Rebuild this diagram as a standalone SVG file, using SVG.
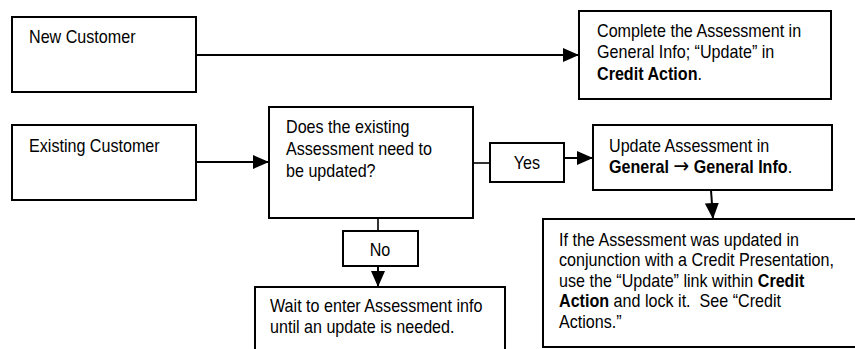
<svg xmlns="http://www.w3.org/2000/svg" width="855" height="349" viewBox="0 0 855 349">
<style>
.box{fill:#fff;stroke:#000;stroke-width:2}
.t{font-family:"Liberation Sans",Arial,sans-serif;font-size:18px;fill:#000;white-space:pre}
.b{font-weight:bold}
.ar{font-family:"DejaVu Sans",sans-serif;font-size:21px;font-weight:normal}
.c{fill:none;stroke:#000;stroke-width:2}
.c1{fill:none;stroke:#000;stroke-width:1.6}
</style>
<defs>
<marker id="ah" markerUnits="userSpaceOnUse" markerWidth="16" markerHeight="14" refX="16" refY="7" orient="auto">
<path d="M0,0 L16,7 L0,14 z" fill="#000"/>
</marker>
</defs>
<rect width="855" height="349" fill="#fff"/>
<g id="connectors">
<line class="c" x1="196" y1="55" x2="579" y2="55" marker-end="url(#ah)"/>
<line class="c" x1="196" y1="162" x2="269" y2="162" marker-end="url(#ah)"/>
<line class="c1" x1="473" y1="163" x2="490" y2="163"/>
<line class="c" x1="564" y1="158" x2="593" y2="158" marker-end="url(#ah)"/>
<line class="c1" x1="378" y1="218" x2="378" y2="231"/>
<line class="c" x1="378" y1="266" x2="378" y2="287" marker-end="url(#ah)"/>
<line class="c" x1="711" y1="190" x2="713" y2="219" marker-end="url(#ah)"/>
</g>
<g id="new-customer">
<rect class="box" x="12" y="17" width="184" height="75"/>
<text class="t" transform="translate(29,43) scale(0.895,1)">New Customer</text>
</g>
<g id="complete-assessment">
<rect class="box" x="579" y="11" width="252" height="88"/>
<g transform="translate(597,0) scale(0.895,1)">
<text class="t" y="37">Complete the Assessment in</text>
<text class="t" y="58.5">General Info; “Update” in</text>
<text class="t" y="80"><tspan class="b">Credit Action</tspan>.</text>
</g>
</g>
<g id="existing-customer">
<rect class="box" x="12" y="125" width="184" height="75"/>
<text class="t" transform="translate(29,152) scale(0.895,1)">Existing Customer</text>
</g>
<g id="decision">
<rect class="box" x="269" y="107" width="204" height="111"/>
<g transform="translate(286,0) scale(0.895,1)">
<text class="t" y="133">Does the existing</text>
<text class="t" y="155">Assessment need to</text>
<text class="t" y="177">be updated?</text>
</g>
</g>
<g id="yes-label">
<rect class="box" x="490" y="143" width="74" height="39"/>
<text class="t" text-anchor="middle" transform="translate(527,169) scale(0.895,1)">Yes</text>
</g>
<g id="no-label">
<rect class="box" x="343" y="231" width="75" height="35"/>
<text class="t" text-anchor="middle" transform="translate(380,256) scale(0.895,1)">No</text>
</g>
<g id="update-assessment">
<rect class="box" x="593" y="125" width="239" height="65"/>
<g transform="translate(609,0) scale(0.895,1)">
<text class="t" y="152">Update Assessment in</text>
<text class="t" y="173"><tspan class="b">General </tspan><tspan class="ar">→</tspan><tspan class="b"> General Info</tspan>.</text>
</g>
</g>
<g id="wait">
<rect class="box" x="255" y="287" width="250" height="80"/>
<g transform="translate(270,0) scale(0.895,1)">
<text class="t" y="312">Wait to enter Assessment info</text>
<text class="t" y="333">until an update is needed.</text>
</g>
</g>
<g id="credit-presentation">
<rect class="box" x="543" y="219" width="320" height="128"/>
<g transform="translate(559,0) scale(0.895,1)">
<text class="t" y="246">If the Assessment was updated in</text>
<text class="t" y="266.5">conjunction with a Credit Presentation,</text>
<text class="t" y="287">use the “Update” link within <tspan class="b">Credit</tspan></text>
<text class="t" y="307.5"><tspan class="b">Action</tspan> and lock it.  See “Credit</text>
<text class="t" y="328">Actions.”</text>
</g>
</g>
</svg>
